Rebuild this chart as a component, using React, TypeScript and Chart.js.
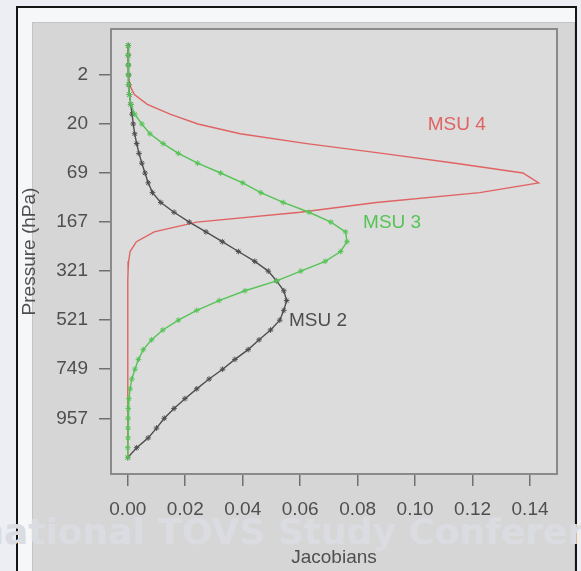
import React, { useEffect, useRef } from "react";
import { Chart, registerables } from "chart.js";

Chart.register(...registerables);

// Model level index (1 = top of atmosphere, 43 = surface)
const LEVELS = [
  1, 2, 3, 4, 5, 6, 7, 8, 9, 10, 11, 12, 13, 14, 15, 16, 17, 18, 19, 20, 21, 22,
  23, 24, 25, 26, 27, 28, 29, 30, 31, 32, 33, 34, 35, 36, 37, 38, 39, 40, 41, 42, 43,
];

// Pressure tick labels (hPa) and the levels they sit on
const PRESSURE_TICK_LEVELS = [4, 9, 14, 19, 24, 29, 34, 39];
const PRESSURE_TICK_LABELS = ["2", "20", "69", "167", "321", "521", "749", "957"];

// Jacobian axis ticks
const JACOBIAN_TICKS = [0, 0.02, 0.04, 0.06, 0.08, 0.1, 0.12, 0.14];

// Channel Jacobians per level
const MSU2 = [
  0.0002, 0.0002, 0.0002, 0.0003, 0.0004, 0.0006, 0.001, 0.0015, 0.0019, 0.0024,
  0.0031, 0.0039, 0.0049, 0.006, 0.0071, 0.0086, 0.0115, 0.0161, 0.0214, 0.0272,
  0.0329, 0.0385, 0.0442, 0.0489, 0.0518, 0.0543, 0.0553, 0.0543, 0.0529, 0.0497,
  0.0457, 0.0419, 0.0373, 0.033, 0.0283, 0.024, 0.0199, 0.0161, 0.0127, 0.01,
  0.0071, 0.0031, 0.0,
];
const MSU3 = [
  0.0001, 0.0001, 0.0002, 0.0002, 0.0002, 0.0005, 0.0011, 0.0024, 0.0049, 0.0077,
  0.0123, 0.0176, 0.0243, 0.0323, 0.04, 0.0463, 0.0541, 0.0631, 0.0707, 0.0758,
  0.0763, 0.0741, 0.0687, 0.0602, 0.0518, 0.0408, 0.0318, 0.024, 0.0176, 0.0122,
  0.0083, 0.0054, 0.0037, 0.0025, 0.0014, 0.0008, 0.0004, 0.0002, 0.0001, 0.0001,
  0.0001, 0.0, 0.0,
];
const MSU4 = [
  0.0, 0.0, 0.0001, 0.0002, 0.0006, 0.0023, 0.0068, 0.0147, 0.0244, 0.0391,
  0.0623, 0.0886, 0.114, 0.1375, 0.143, 0.1225, 0.0865, 0.06, 0.024, 0.0092,
  0.003, 0.0008, 0.0003, 0.0001, 0.0, 0.0, 0.0, 0.0, 0.0, 0.0,
  0.0, 0.0, 0.0, 0.0, 0.0, 0.0, 0.0, 0.0, 0.0, 0.0,
  0.0, 0.0, 0.0,
];

const SERIES_NAMES = ["MSU 2", "MSU 3", "MSU 4"];

const FONT = "'Liberation Sans', Arial, Helvetica, sans-serif";
const RED = "#e06363";
const GREEN = "#55c455";
const DARK = "#4e4e4e";

const toPoints = (vals: number[]) => vals.map((v, i) => ({ x: v, y: LEVELS[i] }));

const framePlugin = {
  id: "frameAndLabels",
  beforeDatasetsDraw(chart: any) {
    const { ctx, chartArea } = chart;
    const { left, top, right, bottom } = chartArea;
    ctx.save();
    ctx.fillStyle = "#dcdcdc";
    ctx.fillRect(left, top, right - left, bottom - top);
    ctx.restore();
  },
  afterDraw(chart: any) {
    const { ctx, chartArea, scales } = chart;
    const { left, top, right, bottom } = chartArea;
    ctx.save();
    ctx.strokeStyle = "#8a8a8a";
    ctx.lineWidth = 2;
    ctx.strokeRect(left, top, right - left, bottom - top);
    // series labels beside their curves (anchored in data space)
    const anchors = [
      { name: SERIES_NAMES[0], x: 0.0561, y: 29, color: DARK },
      { name: SERIES_NAMES[1], x: 0.0819, y: 19, color: GREEN },
      { name: SERIES_NAMES[2], x: 0.1044, y: 9, color: RED },
    ];
    ctx.font = `19px ${FONT}`;
    ctx.textAlign = "left";
    ctx.textBaseline = "middle";
    for (const a of anchors) {
      ctx.fillStyle = a.color;
      ctx.fillText(a.name, scales.x.getPixelForValue(a.x), scales.y.getPixelForValue(a.y) + 1);
    }
    ctx.restore();
  },
};

export default function App() {
  const ref = useRef<HTMLCanvasElement | null>(null);

  useEffect(() => {
    if (!ref.current) return;
    const chart = new Chart(ref.current, {
      type: "scatter",
      data: {
        datasets: [
          {
            label: SERIES_NAMES[1],
            data: toPoints(MSU3),
            showLine: true,
            borderColor: GREEN,
            backgroundColor: GREEN,
            borderWidth: 1.4,
            pointStyle: "star",
            pointRadius: 2.8,
            pointBorderWidth: 1,
            pointBorderColor: GREEN,
            order: 1,
          },
          {
            label: SERIES_NAMES[0],
            data: toPoints(MSU2),
            showLine: true,
            borderColor: DARK,
            backgroundColor: DARK,
            borderWidth: 1.4,
            pointStyle: "star",
            pointRadius: 2.8,
            pointBorderWidth: 1,
            pointBorderColor: DARK,
            order: 2,
          },
          {
            label: SERIES_NAMES[2],
            data: toPoints(MSU4),
            showLine: true,
            borderColor: RED,
            backgroundColor: RED,
            borderWidth: 1.4,
            pointRadius: 0,
            order: 3,
          },
        ],
      },
      options: {
        animation: false,
        responsive: false,
        maintainAspectRatio: false,
        devicePixelRatio: 1,
        layout: { padding: { left: 0, top: 29, right: 24, bottom: 0 } },
        plugins: { legend: { display: false }, tooltip: { enabled: false } },
        elements: { line: { tension: 0 } },
        scales: {
          x: {
            type: "linear",
            min: -0.00584,
            max: 0.14939,
            afterBuildTicks: (s: any) => {
              s.ticks = JACOBIAN_TICKS.map((v) => ({ value: v }));
            },
            afterFit: (s: any) => {
              s.height = 97;
            },
            grid: {
              display: true,
              drawOnChartArea: false,
              drawTicks: true,
              tickLength: 12,
              color: "#707070",
              lineWidth: 1.5,
            },
            border: { display: false },
            ticks: {
              color: "#4f4f4f",
              font: { family: FONT, size: 19 },
              padding: 12,
              maxRotation: 0,
              autoSkip: false,
              callback: (v: any) => Number(v).toFixed(2),
            },
            title: {
              display: true,
              text: "Jacobians",
              color: "#4f4f4f",
              font: { family: FONT, size: 19 },
              padding: { top: 0, bottom: 2 },
            },
          },
          y: {
            type: "linear",
            reverse: true,
            min: -0.68,
            max: 44.68,
            afterBuildTicks: (s: any) => {
              s.ticks = PRESSURE_TICK_LEVELS.map((v) => ({ value: v }));
            },
            afterFit: (s: any) => {
              s.width = 111;
            },
            grid: {
              display: true,
              drawOnChartArea: false,
              drawTicks: true,
              tickLength: 12,
              color: "#707070",
              lineWidth: 1.5,
            },
            border: { display: false },
            ticks: {
              color: "#4f4f4f",
              font: { family: FONT, size: 19 },
              padding: 11,
              autoSkip: false,
              callback: (v: any) => {
                const i = PRESSURE_TICK_LEVELS.indexOf(Number(v));
                return i >= 0 ? PRESSURE_TICK_LABELS[i] : "";
              },
            },
            title: {
              display: true,
              text: "Pressure (hPa)",
              color: "#4f4f4f",
              font: { family: FONT, size: 19 },
              padding: { top: 18, bottom: 0 },
            },
          },
        },
      },
      plugins: [framePlugin],
    } as any);
    return () => chart.destroy();
  }, []);

  return (
    <div
      style={{
        position: "fixed",
        left: 0,
        top: 0,
        width: 581,
        height: 571,
        overflow: "hidden",
        background: "#eceef3",
      }}
    >
      <div
        style={{
          position: "absolute",
          left: 16,
          top: 6,
          width: 557,
          height: 620,
          border: "2px solid #151515",
          background: "#f6f7f9",
        }}
      />
      <div
        style={{
          position: "absolute",
          left: 32,
          top: 22,
          width: 541,
          height: 620,
          border: "1px solid #c4c4c4",
          background: "#d6d6d6",
        }}
      />
      <div
        style={{
          position: "absolute",
          left: -120,
          top: 514,
          whiteSpace: "nowrap",
          fontFamily: "'DejaVu Sans', sans-serif",
          fontWeight: "bold",
          fontSize: 36,
          lineHeight: "36px",
          color: "#dadce2",
        }}
      >
        International TOVS Study Conference
      </div>
      <canvas
        ref={ref}
        width={581}
        height={571}
        style={{ position: "absolute", left: 0, top: 0, width: 581, height: 571 }}
      />
    </div>
  );
}
